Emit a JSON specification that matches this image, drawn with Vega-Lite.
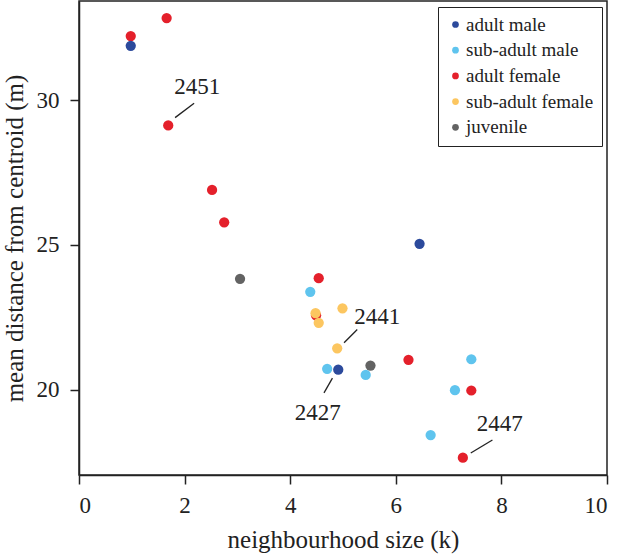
{
  "$schema": "https://vega.github.io/schema/vega-lite/v6.json",
  "width": 528,
  "height": 474,
  "autosize": {"type": "none"},
  "padding": {"left": 79, "top": 1, "right": 13, "bottom": 79},
  "background": "white",
  "config": {
    "font": "Liberation Serif",
    "view": {"stroke": "#222222", "strokeWidth": 1.5},
    "axis": {
      "grid": false,
      "domainColor": "#222222",
      "domainWidth": 1.5,
      "tickColor": "#222222",
      "tickWidth": 1.5,
      "tickSize": 9,
      "labelFont": "Liberation Serif",
      "labelFontSize": 23,
      "labelColor": "#222222",
      "titleFont": "Liberation Serif",
      "titleFontSize": 25,
      "titleFontWeight": "normal",
      "titleColor": "#222222"
    },
    "legend": {
      "labelFont": "Liberation Serif",
      "labelFontSize": 19,
      "labelColor": "#222222"
    }
  },
  "datasets": {
    "points": [
      {"k": 0.98, "dist": 32.22, "group": "adult female"},
      {"k": 1.66, "dist": 32.84, "group": "adult female"},
      {"k": 1.69, "dist": 29.13, "group": "adult female"},
      {"k": 2.52, "dist": 26.90, "group": "adult female"},
      {"k": 2.75, "dist": 25.78, "group": "adult female"},
      {"k": 4.54, "dist": 23.85, "group": "adult female"},
      {"k": 4.49, "dist": 22.57, "group": "adult female"},
      {"k": 6.24, "dist": 21.03, "group": "adult female"},
      {"k": 7.43, "dist": 19.97, "group": "adult female"},
      {"k": 7.27, "dist": 17.65, "group": "adult female"},
      {"k": 3.05, "dist": 23.83, "group": "juvenile"},
      {"k": 5.52, "dist": 20.83, "group": "juvenile"},
      {"k": 4.38, "dist": 23.38, "group": "sub-adult male"},
      {"k": 4.70, "dist": 20.72, "group": "sub-adult male"},
      {"k": 5.43, "dist": 20.51, "group": "sub-adult male"},
      {"k": 7.43, "dist": 21.05, "group": "sub-adult male"},
      {"k": 7.12, "dist": 19.98, "group": "sub-adult male"},
      {"k": 6.66, "dist": 18.43, "group": "sub-adult male"},
      {"k": 0.98, "dist": 31.88, "group": "adult male"},
      {"k": 6.45, "dist": 25.04, "group": "adult male"},
      {"k": 4.91, "dist": 20.69, "group": "adult male"},
      {"k": 4.99, "dist": 22.81, "group": "sub-adult female"},
      {"k": 4.48, "dist": 22.64, "group": "sub-adult female"},
      {"k": 4.54, "dist": 22.31, "group": "sub-adult female"},
      {"k": 4.89, "dist": 21.43, "group": "sub-adult female"}
    ],
    "leaders": [
      {"id": "2451", "x1": 1.82, "y1": 29.40, "x2": 2.18, "y2": 29.90},
      {"id": "2441", "x1": 5.02, "y1": 21.62, "x2": 5.27, "y2": 22.08},
      {"id": "2427", "x1": 4.64, "y1": 19.89, "x2": 4.80, "y2": 20.40},
      {"id": "2447", "x1": 7.42, "y1": 17.81, "x2": 7.83, "y2": 18.26}
    ],
    "labels": [
      {"id": "2451", "x": 2.24, "y": 30.20},
      {"id": "2441", "x": 5.65, "y": 22.27},
      {"id": "2427", "x": 4.52, "y": 18.96},
      {"id": "2447", "x": 7.97, "y": 18.56}
    ]
  },
  "layer": [
    {
      "data": {"name": "points"},
      "mark": {"type": "point", "filled": true, "size": 105, "opacity": 1, "shape": "circle"},
      "encoding": {
        "x": {
          "field": "k", "type": "quantitative",
          "scale": {"domain": [0, 10], "nice": false, "zero": false},
          "axis": {"values": [0, 2, 4, 6, 8, 10], "title": "neighbourhood size (k)", "labelPadding": 10, "titlePadding": 10}
        },
        "y": {
          "field": "dist", "type": "quantitative",
          "scale": {"domain": [17.05, 33.43], "nice": false, "zero": false},
          "axis": {"values": [20, 25, 30], "title": "mean distance from centroid (m)", "labelPadding": 11, "titlePadding": 9}
        },
        "color": {
          "field": "group", "type": "nominal",
          "scale": {
            "domain": ["adult male", "sub-adult male", "adult female", "sub-adult female", "juvenile"],
            "range": ["#2c4a9c", "#5fc4ee", "#e4202b", "#fcc660", "#636363"]
          },
          "legend": {
            "title": null,
            "orient": "none",
            "legendX": 359,
            "legendY": 6,
            "strokeColor": "#222222",
            "padding": 8,
            "rowPadding": 5.7,
            "symbolType": "circle",
            "symbolSize": 45,
            "labelOffset": 1,
            "fillColor": "white",
            "encode": {"legend": {"update": {"strokeWidth": {"value": 1.5}}}}
          }
        }
      }
    },
    {
      "data": {"name": "leaders"},
      "mark": {"type": "rule", "color": "#222222", "strokeWidth": 1.3},
      "encoding": {
        "x": {"field": "x1", "type": "quantitative"},
        "y": {"field": "y1", "type": "quantitative"},
        "x2": {"field": "x2"},
        "y2": {"field": "y2"}
      }
    },
    {
      "data": {"name": "labels"},
      "mark": {"type": "text", "fontSize": 23, "font": "Liberation Serif", "align": "center", "baseline": "alphabetic", "color": "#222222"},
      "encoding": {
        "x": {"field": "x", "type": "quantitative"},
        "y": {"field": "y", "type": "quantitative"},
        "text": {"field": "id", "type": "nominal"}
      }
    }
  ]
}
